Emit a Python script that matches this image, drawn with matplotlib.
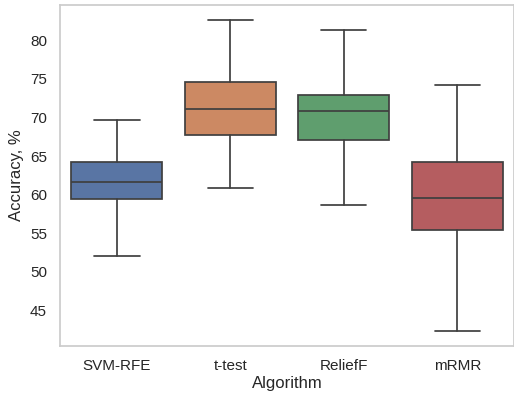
import matplotlib
matplotlib.use('Agg')
import matplotlib.pyplot as plt
import seaborn as sns

# Box statistics
algorithms = ['SVM-RFE', 't-test', 'ReliefF', 'mRMR']
whisker_low = [52.0, 60.9, 58.7, 42.4]
q1 = [59.4, 67.8, 67.1, 55.4]
median = [61.65, 71.1, 70.8, 59.6]
q3 = [64.2, 74.6, 72.9, 64.2]
whisker_high = [69.7, 82.6, 81.3, 74.2]

sns.set_theme(style='whitegrid')
plt.rcParams['font.family'] = ['Liberation Sans', 'DejaVu Sans']

colors = [sns.desaturate(c, 0.75) for c in sns.color_palette('deep', 4)]

stats = []
for i, name in enumerate(algorithms):
    stats.append({'label': name, 'whislo': whisker_low[i], 'q1': q1[i],
                  'med': median[i], 'q3': q3[i], 'whishi': whisker_high[i],
                  'fliers': []})

fig, ax = plt.subplots(figsize=(5.14, 4.01), dpi=100)
fig.subplots_adjust(left=0.117, right=1.0, top=0.988, bottom=0.137)

line_col = '#3f3f3f'
lw = 1.25
bp = ax.bxp(stats, positions=range(len(algorithms)), widths=0.8,
            patch_artist=True, showfliers=False,
            boxprops=dict(edgecolor=line_col, linewidth=lw),
            medianprops=dict(color=line_col, linewidth=lw),
            whiskerprops=dict(color=line_col, linewidth=lw),
            capprops=dict(color=line_col, linewidth=lw))
for patch, c in zip(bp['boxes'], colors):
    patch.set_facecolor(c)

ax.grid(False)
ax.set_xlim(-0.5, 3.5)
ax.set_xlabel('Algorithm', fontsize=12, labelpad=2)
ax.set_ylabel('Accuracy, %', fontsize=12)
ax.tick_params(labelsize=11)

fig.savefig('out.png', dpi=100)
